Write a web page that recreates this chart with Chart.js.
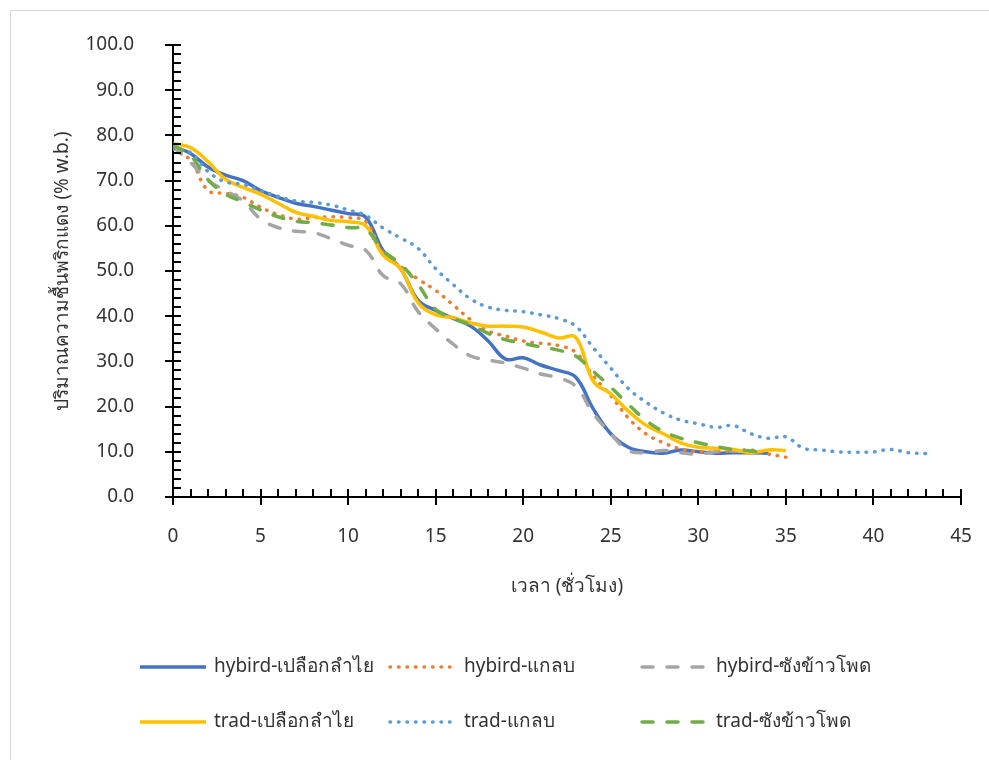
<!DOCTYPE html>
<html>
<head>
<meta charset="utf-8">
<title>Moisture content</title>
<script src="https://cdn.jsdelivr.net/npm/chart.js@4.4.0/dist/chart.umd.min.js"></script>
<style>
  html, body { margin: 0; padding: 0; background: #fff; }
  #wrap { position: relative; width: 989px; height: 760px; }
</style>
</head>
<body>
<div id="wrap"><canvas id="moistureChart" width="989" height="760"></canvas></div>
<script>
// drying time, hours
var hours = [0, 1, 2, 3, 4, 5, 6, 7, 8, 9, 10, 11, 12, 13, 14, 15, 16, 17, 18, 19, 20,
             21, 22, 23, 24, 25, 26, 27, 28, 29, 30, 31, 32, 33, 34, 35, 36, 37, 38, 39, 40,
             41, 42, 43];

// moisture content, % w.b.
var hybridLongan = [77.5, 76, 73, 71.2, 70, 67.8, 66.3, 65, 64.3, 63.5, 62.7, 61.9, 54.5, 50.5,
                    43.5, 41.3, 39.5, 37.8, 34.5, 30.5, 30.8, 29.2, 28, 26.5, 19.5, 14, 11, 10,
                    9.7, 10.4, 10, 9.7, 9.8, 9.8, 9.7];
var hybridHusk = [77, 74.5, 67.8, 67.2, 66.3, 64.1, 62.5, 61.5, 61.8, 62, 61.8, 61, 54, 51, 48.2,
                  45.7, 42.5, 39.2, 36.7, 35.6, 34.5, 34, 33.5, 32, 26.8, 22.4, 17.5, 14, 12, 10.6,
                  10, 10, 10.2, 10.4, 9.5, 8.8];
var hybridCob = [77.5, 74, 70, 67.8, 65.5, 61.5, 59.6, 58.8, 58.5, 57.2, 55.7, 54.6, 49, 47.2, 41,
                 37.2, 33.8, 31.2, 30.3, 29.6, 28.5, 27.2, 26.4, 24.5, 18.5, 14, 10.3, 9.8, 10.3,
                 9.8, 9.5, 10, 10.2, 10];
var tradLongan = [78.2, 77.3, 74.2, 70.3, 68.5, 67, 65, 63, 62.1, 61.2, 60.9, 60, 53.5, 50.5, 43,
                  40.3, 39.7, 38.5, 37.8, 37.8, 37.6, 36.5, 35.2, 35.3, 25.6, 22.8, 19, 15.9, 14,
                  12, 11, 10.8, 10.5, 9.8, 10.4, 10.3];
var tradHusk = [77, 76.2, 72, 69.7, 69.2, 67.8, 66.5, 65.5, 65.2, 64.6, 63.5, 62.3, 59.5, 57.3, 55,
                50.5, 47, 43.8, 42, 41.3, 41, 40.3, 39.5, 37.8, 33, 28.5, 24, 21, 18.6, 17, 16.2,
                15.4, 15.8, 14, 13, 13.3, 10.8, 10.4, 10, 9.9, 10, 10.5, 9.8, 9.6];
var tradCob = [77.8, 75.5, 70.2, 67, 65.3, 63.5, 62, 61, 60.7, 60.2, 59.6, 59.2, 54.5, 51.5, 47,
               41.5, 39.5, 38.1, 36.2, 34.8, 34, 33.2, 32.5, 31.2, 27.8, 24.3, 20.5, 17, 14.5, 13,
               12, 11.2, 10.5, 10.2, 9.6];

var seriesNames = ['hybird-เปลือกลำไย', 'hybird-แกลบ', 'hybird-ซังข้าวโพด',
                   'trad-เปลือกลำไย', 'trad-แกลบ', 'trad-ซังข้าวโพด'];
var seriesValues = [hybridLongan, hybridHusk, hybridCob, tradLongan, tradHusk, tradCob];
var seriesColors = ['#4472C4', '#ED7D31', '#A5A5A5', '#FFC000', '#5B9BD5', '#70AD47'];
var seriesDash = [[], [0.5, 8], [11, 14], [], [0.5, 8], [11, 14]];

var FONT = "'Noto Sans', 'Leelawadee UI', Tahoma, sans-serif";
var TEXT = '#333333';

function toPoints(values) {
    return values.map(function(v, i) { return { x: hours[i], y: v }; });
}

var datasets = seriesValues.map(function(values, i) {
    return {
        label: seriesNames[i],
        data: toPoints(values),
        borderColor: seriesColors[i],
        backgroundColor: seriesColors[i],
        borderWidth: 3.5,
        borderDash: seriesDash[i],
        borderCapStyle: seriesDash[i].length ? 'round' : 'butt',
        pointRadius: 0,
        tension: 0.4,
        fill: false,
        order: seriesValues.length - i
    };
});

// frame + inside tick marks
var frameAndTicks = {
    id: 'frameAndTicks',
    beforeDraw: function(chart) {
        var ctx = chart.ctx;
        ctx.save();
        ctx.strokeStyle = '#d9d9d9';
        ctx.lineWidth = 1;
        ctx.strokeRect(10.5, 10.5, 1000, 800);
        ctx.restore();
    },
    afterDatasetsDraw: function(chart) {
        var ctx = chart.ctx;
        var xs = chart.scales.x, ys = chart.scales.y;
        var x0 = xs.getPixelForValue(0), y0 = ys.getPixelForValue(0);
        ctx.save();
        ctx.strokeStyle = '#000';
        ctx.lineWidth = 2;
        ctx.beginPath();
        for (var v = 0; v <= 100; v += 2) {
            var py = Math.round(ys.getPixelForValue(v));
            var major = v % 10 === 0;
            ctx.moveTo(major ? x0 - 8 : x0, py);
            ctx.lineTo(x0 + 8, py);
        }
        for (var h = 0; h <= 45; h += 1) {
            var px = Math.round(xs.getPixelForValue(h));
            var maj = h % 5 === 0;
            ctx.moveTo(px, y0 - 8);
            ctx.lineTo(px, maj ? y0 + 8 : y0);
        }
        ctx.stroke();
        ctx.restore();
    },
    afterDraw: function(chart) {
        // two-row legend, fixed columns
        var cols = [138, 388, 640], rows = [667, 722];
        var ctx = chart.ctx;
        chart.data.datasets.forEach(function(ds, i) {
            var x = cols[i % 3], y = rows[Math.floor(i / 3)];
            ctx.save();
            ctx.strokeStyle = ds.borderColor;
            ctx.lineWidth = ds.borderWidth;
            ctx.lineCap = ds.borderCapStyle;
            ctx.setLineDash(ds.borderDash);
            ctx.beginPath();
            ctx.moveTo(x + 2, y);
            ctx.lineTo(x + 68, y);
            ctx.stroke();
            ctx.setLineDash([]);
            ctx.fillStyle = TEXT;
            ctx.font = '19px ' + FONT;
            ctx.textBaseline = 'middle';
            ctx.fillText(ds.label, x + 76, y);
            ctx.restore();
        });
    }
};

var options = {
    type: 'line',
    data: { datasets: datasets },
    options: {
        responsive: false,
        animation: false,
        devicePixelRatio: 1,
        layout: { padding: { left: 0, right: 28, top: 45, bottom: 0 } },
        plugins: { legend: { display: false }, tooltip: { enabled: false } },
        scales: {
            x: {
                type: 'linear',
                min: 0,
                max: 45,
                afterFit: function(s) {
                    s.height = 263;
                    s.paddingLeft = 0;
                    s.paddingRight = 0;
                },
                grid: { display: false },
                border: { display: true, color: '#000', width: 2 },
                ticks: { stepSize: 5, padding: 20, color: TEXT, font: { family: FONT, size: 19 } },
                title: {
                    display: true,
                    text: 'เวลา (ชั่วโมง)',
                    color: TEXT,
                    font: { family: FONT, size: 19 },
                    padding: { top: 0, bottom: 162 }
                }
            },
            y: {
                min: 0,
                max: 100,
                afterFit: function(s) {
                    s.width = 173;
                    s.paddingTop = 0;
                    s.paddingBottom = 0;
                },
                grid: { display: false },
                border: { display: true, color: '#000', width: 2 },
                ticks: {
                    stepSize: 10,
                    padding: 31,
                    color: TEXT,
                    font: { family: FONT, size: 19 },
                    callback: function(v) { return v.toFixed(1); }
                },
                title: {
                    display: true,
                    text: 'ปริมาณความชื้นพริกแดง (% w.b.)',
                    color: TEXT,
                    font: { family: FONT, size: 19 },
                    padding: { top: 51, bottom: 0 }
                }
            }
        }
    },
    plugins: [frameAndTicks]
};

var moistureChart = new Chart(document.getElementById('moistureChart'), options);
</script>
</body>
</html>
